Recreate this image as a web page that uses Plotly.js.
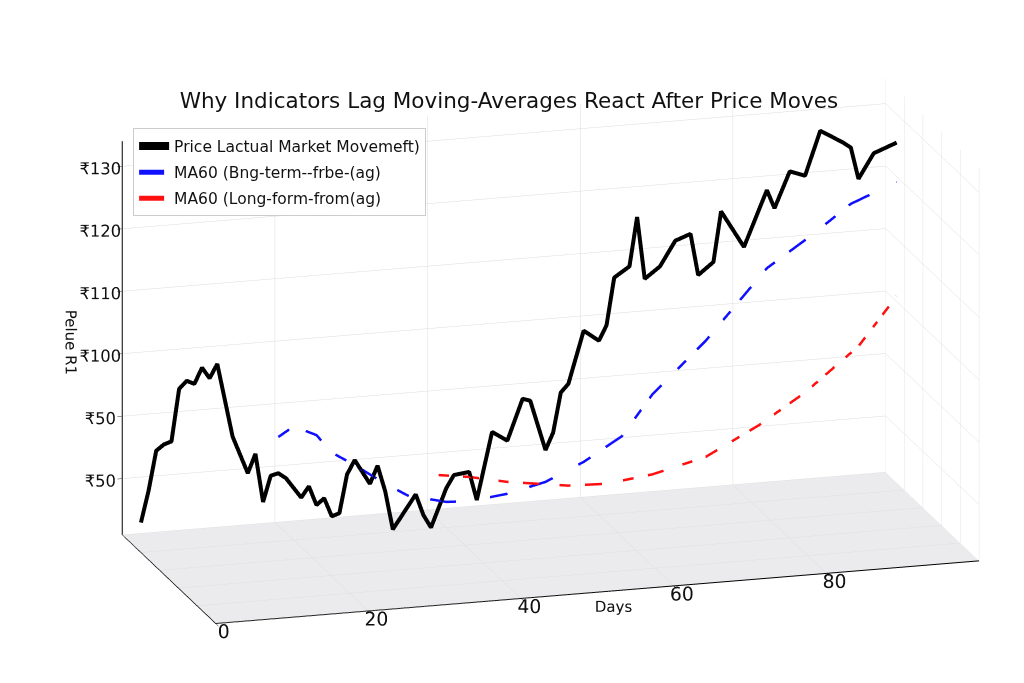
<!DOCTYPE html>
<html>
<head>
<meta charset="utf-8">
<script src="https://cdn.plot.ly/plotly-3.0.1.min.js"></script>
<style>
  html, body { margin: 0; padding: 0; background: #ffffff; }
  #chart { width: 1024px; height: 683px; }
</style>
</head>
<body>
<div id="chart"></div>
<script>
'use strict'

// price path (vertices only)
const days = [0, 1, 2, 3, 4, 5, 6, 7, 8, 9, 10, 12, 14, 15, 16, 17, 18, 19, 21, 22, 23, 24, 25, 26, 27, 28,
              30, 31, 32, 33, 36, 37, 38, 40, 41, 43, 44, 46, 48, 50, 51, 53, 54, 55, 56, 58, 60, 61, 62,
              64, 65, 66, 68, 70, 72, 73, 75, 76, 79, 82, 83, 85, 87, 89, 92, 93, 94, 96, 99];
const price = [75.8, 80.8, 87.1, 88.0, 88.4, 96.7, 97.9, 97.3, 99.8, 98.0, 100.2, 88.4, 82.3, 85.3, 77.5, 81.6,
               81.9, 81.0, 77.7, 79.4, 76.3, 77.3, 74.3, 74.7, 80.8, 83.0, 79.0, 81.8, 77.6, 71.4, 76.7,
               73.3, 71.2, 77.3, 79.3, 79.6, 75.0, 85.7, 84.1, 90.6, 90.2, 82.1, 84.8, 91.1, 92.4, 100.7,
               98.9, 101.3, 108.8, 110.4, 118.2, 108.2, 110.0, 113.9, 114.8, 108.1, 110.0, 118.0, 112.0,
               120.8, 117.8, 123.5, 122.6, 129.6, 127.4, 126.5, 121.4, 125.3, 126.7];

// shorter moving average
const maShortDays = [18, 20, 23, 25, 28, 32, 35, 40, 43, 48, 53, 58, 63, 67, 74, 82, 88, 93, 99];
const maShort = [87.7, 89.2, 87.5, 84.5, 82.2, 78.8, 76.6, 75.1, 74.9, 75.6, 77.0, 79.7, 83.3, 89.6,
                 97.5, 108.3, 113.1, 117.5, 120.4];

// longer moving average
const maLongDays = [39, 43, 48, 56, 61, 67, 74, 81, 87, 94, 99];
const maLong = [79.5, 78.8, 77.5, 76.1, 75.9, 76.8, 78.9, 83.3, 87.9, 94.6, 102.1];

const zTickVals = [80, 90, 100, 110, 120, 130];
const zTickText = ['₹50', '₹50', '₹100', '₹110', '₹120', '₹130'];
const xTickVals = [0, 20, 40, 60, 80];

const legendNames = ['Price Lactual Market Movemeft)', 'MA60 (Bng-term--frbe-(ag)', 'MA60 (Long-form-from(ag)'];

const font = 'DejaVu Sans, sans-serif';
const depth = 0.8; // where the lines sit, 0 = front, 1 = back
const along = arr => arr.map(() => depth);

let tracePrice = {
    type: 'scatter3d', mode: 'lines',
    x: days, y: along(days), z: price,
    line: { color: '#000000', width: 8 },
    name: legendNames[0], legendgroup: 'a', hoverinfo: 'skip'
};

let traceShort = {
    type: 'scatter3d', mode: 'lines',
    x: maShortDays, y: along(maShortDays), z: maShort,
    line: { color: '#1010ff', width: 5, dash: 'longdashdot' },
    name: legendNames[1], legendgroup: 'b', hoverinfo: 'skip'
};

let traceLong = {
    type: 'scatter3d', mode: 'lines',
    x: maLongDays, y: along(maLongDays), z: maLong,
    line: { color: '#ff1010', width: 5, dash: 'longdashdot' },
    name: legendNames[2], legendgroup: 'c', hoverinfo: 'skip'
};

let axisBase = {
    showbackground: true,
    backgroundcolor: '#ffffff',
    gridcolor: '#dcdcdc',
    gridwidth: 1,
    showline: true,
    linecolor: '#000000',
    linewidth: 2,
    zeroline: false,
    showspikes: false,
    tickangle: 0,
    tickfont: { family: font, size: 15, color: '#111111' }
};

// view direction worked out from the box corners in the picture
const eyeDir = { x: -0.271, y: -0.921, z: 0.279 };
const eyeDist = 2.0;
// look-at point nudged so the box sits where it does in the picture
const look = { x: -0.1064, y: 0.0394, z: 0.0270 };

let layout = {
    width: 1024, height: 683,
    paper_bgcolor: '#ffffff',
    margin: { l: 0, r: 0, t: 0, b: 0 },
    font: { family: font, color: '#111111' },
    title: {
        text: 'Why Indicators Lag Moving-Averages React After Price Moves',
        font: { family: font, size: 21.5, color: '#111111' },
        x: 0.497, xanchor: 'center', y: 0.853, yanchor: 'middle'
    },
    showlegend: true,
    legend: {
        x: 0.13, y: 0.812, xanchor: 'left', yanchor: 'top',
        bgcolor: 'rgba(255,255,255,0.92)',
        bordercolor: '#cccccc', borderwidth: 1,
        font: { family: font, size: 15.5, color: '#111111' },
        tracegroupgap: 3
    },
    scene: {
        domain: { x: [0, 1], y: [0, 1] },
        aspectmode: 'manual',
        aspectratio: { x: 2.33, y: 0.97, z: 1.2 },
        camera: {
            eye: { x: look.x + eyeDir.x * eyeDist, y: look.y + eyeDir.y * eyeDist, z: look.z + eyeDir.z * eyeDist },
            center: look,
            up: { x: 0, y: 0, z: 1 },
            projection: { type: 'orthographic' }
        },
        xaxis: Object.assign({}, axisBase, {
            range: [0, 100],
            tickvals: xTickVals,
            ticks: 'outside', ticklen: 5, tickcolor: '#000000', tickwidth: 1,
            title: { text: 'Days', font: { family: font, size: 15 } }
        }),
        yaxis: Object.assign({}, axisBase, {
            range: [0, 1],
            showticklabels: false,
            dtick: 0.2,
            title: { text: '' }
        }),
        zaxis: Object.assign({}, axisBase, {
            range: [71, 134],
            tickvals: zTickVals,
            ticktext: zTickText,
            ticks: 'outside', ticklen: 9, tickcolor: '#333333', tickwidth: 1,
            tickfont: { family: font, size: 14, color: '#111111' },
            backgroundcolor: '#ebebed',
            title: { text: 'Pelue R1', font: { family: font, size: 15 } }
        })
    }
};

Plotly.newPlot('chart', [tracePrice, traceShort, traceLong], layout, { displayModeBar: false });
</script>
</body>
</html>
